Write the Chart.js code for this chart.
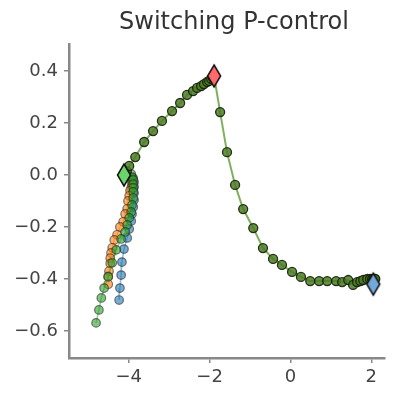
<!DOCTYPE html>
<html>
<head>
<meta charset="utf-8">
<script src="https://cdn.jsdelivr.net/npm/chart.js@4"></script>
<style>
  body { margin: 0; background: #fff; }
  canvas { display: block; }
</style>
</head>
<body>
<canvas id="chart" width="399" height="399"></canvas>
<script>
// Données
const titre = 'Switching P-control';
const xTicks = [-4, -2, 0, 2];
const yTicks = [-0.6, -0.4, -0.2, 0.0, 0.2, 0.4];

// trajectoire principale (vert olive)
const mainX = [-4.12, -4.08, -4.05, -3.99, -3.84, -3.62, -3.40, -3.18, -2.93, -2.73, -2.56, -2.41, -2.31, -2.21, -2.14, -2.06, -2.01, -1.96, -1.92, -1.89,
               -1.74, -1.57, -1.37, -1.17, -0.92, -0.68, -0.43, -0.21, 0.04, 0.26, 0.49, 0.71, 0.91, 1.13, 1.28, 1.43, 1.55, 1.65, 1.73, 1.80, 1.90, 1.97, 2.02, 2.05, 2.08, 2.10];
const mainY = [0.0, 0.005, 0.015, 0.035, 0.069, 0.127, 0.169, 0.208, 0.246, 0.277, 0.308, 0.323, 0.335, 0.342, 0.35, 0.358, 0.362, 0.37, 0.375, 0.381,
               0.242, 0.088, -0.038, -0.131, -0.204, -0.281, -0.323, -0.346, -0.373, -0.392, -0.408, -0.408, -0.408, -0.408, -0.412, -0.404, -0.423, -0.412, -0.408, -0.404, -0.40, -0.40, -0.40, -0.40, -0.40, -0.40];

// trajectoires de gauche
const blueX = [-3.89, -3.87, -3.87, -3.87, -3.87, -3.89, -3.92, -3.94, -3.99, -4.04, -4.12, -4.17, -4.19, -4.22, -4.24];
const blueY = [-0.012, -0.027, -0.046, -0.069, -0.096, -0.123, -0.15, -0.177, -0.208, -0.242, -0.285, -0.335, -0.385, -0.435, -0.481];

const orangeX = [-3.94, -3.92, -3.92, -3.92, -3.94, -3.97, -3.99, -4.02, -4.04, -4.09, -4.14, -4.22, -4.29, -4.36, -4.41, -4.44, -4.46, -4.46, -4.49, -4.51, -4.51];
const orangeY = [-0.01, -0.02, -0.03, -0.04, -0.05, -0.06, -0.08, -0.10, -0.13, -0.15, -0.18, -0.20, -0.23, -0.25, -0.28, -0.30, -0.32, -0.34, -0.37, -0.39, -0.42];

const greenX = [-3.94, -3.92, -3.89, -3.89, -3.89, -3.89, -3.89, -3.92, -3.94, -3.99, -4.04, -4.09, -4.19, -4.31, -4.41, -4.51, -4.61, -4.68, -4.74, -4.81];
const greenY = [0.004, -0.008, -0.019, -0.035, -0.05, -0.065, -0.088, -0.115, -0.142, -0.165, -0.192, -0.219, -0.246, -0.288, -0.338, -0.392, -0.435, -0.473, -0.519, -0.569];

// losanges (cibles)
const targetX = [-4.12, -1.89, 2.05];
const targetY = [0.0, 0.381, -0.42];
const targetColors = ['#6bd46b', '#ff6b6b', '#72a8dc'];

function zip(xs, ys) {
    return xs.map((x, i) => ({ x: x, y: ys[i] }));
}

// losange fin façon matplotlib 'd'
function losange(color) {
    const c = document.createElement('canvas');
    c.width = 18;
    c.height = 26;
    const ctx = c.getContext('2d');
    ctx.beginPath();
    ctx.moveTo(9, 2);
    ctx.lineTo(15.5, 13);
    ctx.lineTo(9, 24);
    ctx.lineTo(2.5, 13);
    ctx.closePath();
    ctx.fillStyle = color;
    ctx.fill();
    ctx.lineWidth = 1.5;
    ctx.strokeStyle = '#111';
    ctx.stroke();
    return c;
}

function serie(xs, ys, fill, line) {
    return {
        data: zip(xs, ys),
        showLine: true,
        borderColor: line,
        borderWidth: 1.5,
        pointRadius: 4.3,
        pointBackgroundColor: fill,
        pointBorderColor: 'rgba(40,40,40,0.6)',
        pointBorderWidth: 1.2
    };
}

// Chart.js dessine le premier dataset au-dessus : losanges d'abord
const datasets = targetX.map((x, i) => ({
    data: [{ x: x, y: targetY[i] }],
    showLine: false,
    pointStyle: losange(targetColors[i]),
    pointRadius: 10
}));

datasets.push({
    data: zip(mainX, mainY),
    showLine: true,
    borderColor: '#80b05c',
    borderWidth: 2,
    pointRadius: 4.5,
    pointBackgroundColor: 'rgba(75,125,35,0.85)',
    pointBorderColor: 'rgba(20,30,10,0.9)',
    pointBorderWidth: 1.3
});
datasets.push(serie(greenX, greenY, 'rgba(44,160,44,0.6)', 'rgba(44,160,44,0.5)'));
datasets.push(serie(orangeX, orangeY, 'rgba(255,127,14,0.6)', 'rgba(255,127,14,0.5)'));
datasets.push(serie(blueX, blueY, 'rgba(31,119,180,0.6)', 'rgba(31,119,180,0.5)'));

const moins = v => String(v).replace('-', '\u2212');

// titre centré comme dans l'original
const titrePlugin = {
    id: 'titre',
    afterDraw(chart) {
        const ctx = chart.ctx;
        ctx.save();
        ctx.font = '24px "DejaVu Sans"';
        ctx.fillStyle = '#333';
        ctx.textAlign = 'center';
        ctx.textBaseline = 'alphabetic';
        ctx.fillText(titre, 234, 29);
        ctx.restore();
    }
};

new Chart(document.getElementById('chart').getContext('2d'), {
    type: 'scatter',
    data: { datasets: datasets },
    plugins: [titrePlugin],
    options: {
        responsive: false,
        animation: false,
        layout: { padding: { top: 44, right: 14, bottom: 0, left: 0 } },
        plugins: {
            legend: { display: false },
            tooltip: { enabled: false },
            title: { display: false }
        },
        scales: {
            x: {
                type: 'linear',
                min: -5.48,
                max: 2.34,
                afterBuildTicks: axis => { axis.ticks = xTicks.map(v => ({ value: v })); },
                afterFit: axis => { axis.height = 41; },
                border: { display: true, color: '#888', width: 2.5 },
                grid: { display: true, drawOnChartArea: false, drawTicks: true, tickLength: 5, color: '#888', lineWidth: 1.5 },
                ticks: {
                    color: '#444',
                    padding: 4,
                    font: { family: 'DejaVu Sans', size: 18 },
                    callback: v => moins(v)
                }
            },
            y: {
                type: 'linear',
                min: -0.704,
                max: 0.504,
                afterBuildTicks: axis => { axis.ticks = yTicks.map(v => ({ value: v })); },
                afterFit: axis => { axis.width = 69; },
                border: { display: true, color: '#888', width: 2.5 },
                grid: { display: true, drawOnChartArea: false, drawTicks: true, tickLength: 5, color: '#888', lineWidth: 1.5 },
                ticks: {
                    color: '#444',
                    padding: 6,
                    font: { family: 'DejaVu Sans', size: 18 },
                    callback: v => moins(v.toFixed(1))
                }
            }
        }
    }
});
</script>
</body>
</html>
